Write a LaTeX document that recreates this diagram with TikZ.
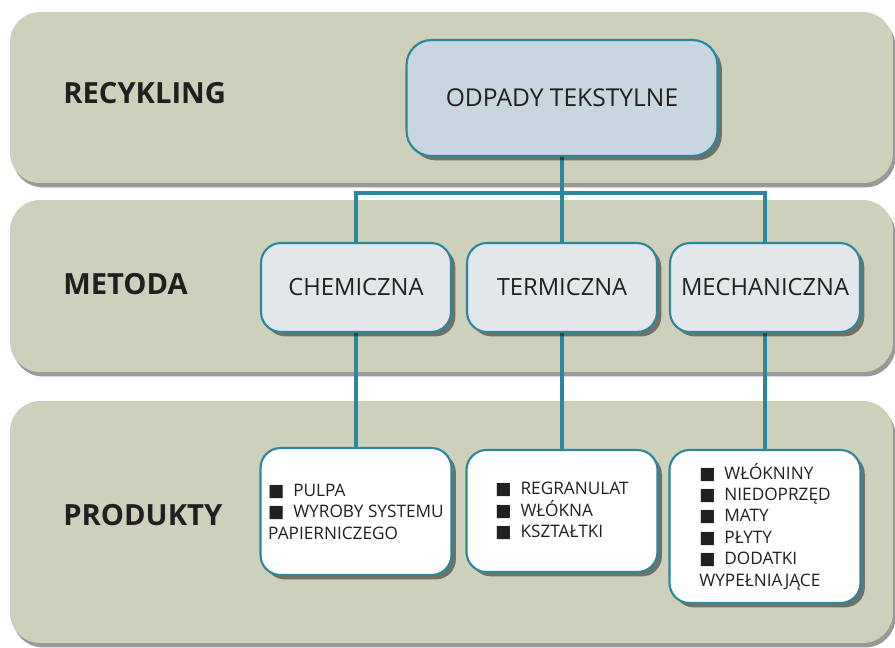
\documentclass[tikz,border=0pt]{standalone}
\usepackage{fontspec}
\setmainfont{Open Sans}
\newfontfamily\symfont{DejaVu Sans}
\usepackage{tikz}
\usetikzlibrary{positioning, shadows}
\usepackage{xcolor}

\definecolor{bandgreen}{RGB}{205,209,188}
\definecolor{topblue}{RGB}{199,214,223}
\definecolor{methblue}{RGB}{226,231,234}
\definecolor{linkteal}{RGB}{44,134,158}
\definecolor{inkdark}{RGB}{35,31,32}

\pgfdeclarelayer{bands}
\pgfdeclarelayer{links}
\pgfsetlayers{bands,links,main}

\newcommand\blt{{\symfont\char"25A0}\hspace{5pt}}

\begin{document}
\begin{tikzpicture}[x=0.02cm, y=-0.02cm,
                  band/.style={fill=bandgreen, rounded corners=0.6cm, minimum width=17.66cm,
                              drop shadow={shadow xshift=1.5pt, shadow yshift=-2.5pt,
                                           fill=black, opacity=0.4}},
                  bandlabel/.style={font=\fontsize{16.6}{18}\selectfont\bfseries, text=inkdark,
                              inner sep=0pt, anchor=west},
                  waste/.style={draw=linkteal, line width=1.2pt, fill=topblue, rounded corners=0.5cm,
                              minimum width=6.22cm, minimum height=2.32cm, text=inkdark,
                              font=\fontsize{14}{16}\selectfont,
                              drop shadow={shadow xshift=2.5pt, shadow yshift=-2.5pt,
                                           fill=black, opacity=0.45}},
                  method/.style={draw=linkteal, line width=1.2pt, fill=methblue, rounded corners=0.4cm,
                              minimum width=3.8cm, minimum height=1.78cm, inner sep=2pt, text=inkdark,
                              font=\fontsize{13.5}{16}\selectfont,
                              drop shadow={shadow xshift=2.5pt, shadow yshift=-2.5pt,
                                           fill=black, opacity=0.45}},
                  product/.style={draw=linkteal, line width=1.2pt, fill=white, rounded corners=0.4cm,
                              minimum width=3.82cm, inner sep=2pt, align=left, text=inkdark,
                              font=\fontsize{9.8}{12.2}\selectfont,
                              drop shadow={shadow xshift=2.5pt, shadow yshift=-2.5pt,
                                           fill=black, opacity=0.45}},
                  link/.style={draw=linkteal, line width=2.2pt},
            ]
            \useasboundingbox (0,0) rectangle (895,647);

            % Background bands with their labels
            \begin{pgfonlayer}{bands}
            \foreach \i/\y/\h/\ly/\lab in {
                  rec/97.5/3.42cm/93/RECYKLING,
                  met/286/3.44cm/284/METODA,
                  prod/522/4.84cm/515/PRODUKTY}{
                  \node[band, minimum height=\h] (band\i) at (451.5,\y) {};
                  \node[bandlabel] (lab\i) at (63,\ly) {\lab};
                  }
            \end{pgfonlayer}

            % Top box
            \node[waste] (odpady) at (562,98) {ODPADY TEKSTYLNE};

            % Method boxes
            \foreach \n/\x/\lab in {chem/356/CHEMICZNA, term/562/TERMICZNA, mech/765/MECHANICZNA}{
                  \node[method] (\n) at (\x,287.5) {\lab};
                  }

            % Product boxes
            \node[product, minimum height=2.54cm] (pchem) at (356,511.5)
            {\blt PULPA\\ \blt WYROBY SYSTEMU\\ PAPIERNICZEGO};
            \node[product, minimum height=2.44cm] (pterm) at (562,511)
            {\blt REGRANULAT\\ \blt WŁÓKNA\\ \blt KSZTAŁTKI};
            \node[product, minimum height=3.06cm] (pmech) at (765,526.5)
            {\blt WŁÓKNINY\\ \blt NIEDOPRZĘD\\ \blt MATY\\ \blt PŁYTY\\ \blt DODATKI\\ WYPEŁNIAJĄCE};

            % Connectors
            \coordinate (split) at (562,193);
            \begin{pgfonlayer}{links}
            \draw[link] (odpady) -- (term);
            \draw[link] (chem) |- (split) -| (mech);
            \foreach \n in {chem, term, mech}{
                  \draw[link] (\n) -- (p\n);
                  }
            \end{pgfonlayer}
      \end{tikzpicture}
\end{document}
